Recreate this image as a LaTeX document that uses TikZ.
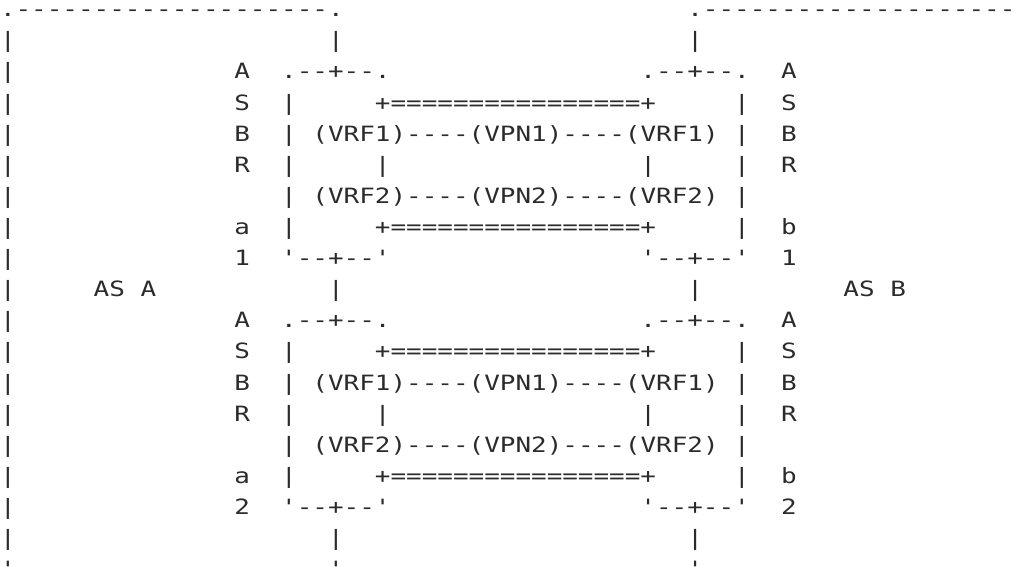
\documentclass[tikz,border=0pt]{standalone}
\usepackage{fontspec}
\newfontfamily\asciiFont[FakeStretch=1.232,Ligatures=TeXOff]{DejaVu Sans Mono}
\definecolor{yaziGri}{HTML}{2B2B2B}
\newcommand{\cw}{15.62}
\newcommand{\ry}[1]{16.8+31.1*(#1-1)}

\begin{document}
\begin{tikzpicture}[x=0.75pt, y=-0.75pt,
  every node/.style={font=\asciiFont\fontsize{15.8pt}{19pt}\selectfont, text=yaziGri,
                     inner sep=0pt, outer sep=0pt, anchor=base west}]
\useasboundingbox (0,0) rectangle (1014,567);
% top edges of AS A and AS B
\node (ustA) at ({0*\cw},{\ry{1}}) {.--------------------.};
\node (ustB) at ({44*\cw},{\ry{1}}) {.--------------------};
% left border of AS A
\foreach \k in {2,...,18} \node (sol\k) at ({0*\cw},{\ry{\k}}) {|};
\node (solAlt) at ({0*\cw},{\ry{19}}) {'};
% links between the ASBR pairs
\foreach \k in {2,10,18} {
  \node (linkA\k) at ({21*\cw},{\ry{\k}}) {|};
  \node (linkB\k) at ({44*\cw},{\ry{\k}}) {|};
}
\node (linkAalt) at ({21*\cw},{\ry{19}}) {'};
\node (linkBalt) at ({44*\cw},{\ry{19}}) {'};
\node (asA1) at ({6*\cw},{\ry{10}}) {AS};
\node (asA2) at ({9*\cw},{\ry{10}}) {A};
\node (asB1) at ({54*\cw},{\ry{10}}) {AS};
\node (asB2) at ({57*\cw},{\ry{10}}) {B};
% two ASBR pairs
\foreach \blok/\satir in {1/3, 2/11} {
  \foreach \harf [count=\i from 0] in {A,S,B,R} {
    \node (harfA\blok\i) at ({15*\cw},{\ry{\satir+\i}}) {\harf};
    \node (harfB\blok\i) at ({50*\cw},{\ry{\satir+\i}}) {\harf};
  }
  \node (kucukA\blok) at ({15*\cw},{\ry{\satir+5}}) {a};
  \node (kucukB\blok) at ({50*\cw},{\ry{\satir+5}}) {b};
  \node (noA\blok) at ({15*\cw},{\ry{\satir+6}}) {\blok};
  \node (noB\blok) at ({50*\cw},{\ry{\satir+6}}) {\blok};
  % box tops and bottoms
  \node (tepeA\blok) at ({18*\cw},{\ry{\satir}}) {.--+--.};
  \node (tepeB\blok) at ({41*\cw},{\ry{\satir}}) {.--+--.};
  \node (tabanA\blok) at ({18*\cw},{\ry{\satir+6}}) {'--+--'};
  \node (tabanB\blok) at ({41*\cw},{\ry{\satir+6}}) {'--+--'};
  \foreach \i in {1,...,5} {
    \node (yanA\blok\i) at ({18*\cw},{\ry{\satir+\i}}) {|};
    \node (yanB\blok\i) at ({47*\cw},{\ry{\satir+\i}}) {|};
  }
  % VPN links
  \node (cizgiUst\blok) at ({24*\cw},{\ry{\satir+1}}) {+================+};
  \node (vpn1\blok) at ({20*\cw},{\ry{\satir+2}}) {(VRF1)----(VPN1)----(VRF1)};
  \node (dikA\blok) at ({24*\cw},{\ry{\satir+3}}) {|};
  \node (dikB\blok) at ({41*\cw},{\ry{\satir+3}}) {|};
  \node (vpn2\blok) at ({20*\cw},{\ry{\satir+4}}) {(VRF2)----(VPN2)----(VRF2)};
  \node (cizgiAlt\blok) at ({24*\cw},{\ry{\satir+5}}) {+================+};
}
\end{tikzpicture}
\end{document}
